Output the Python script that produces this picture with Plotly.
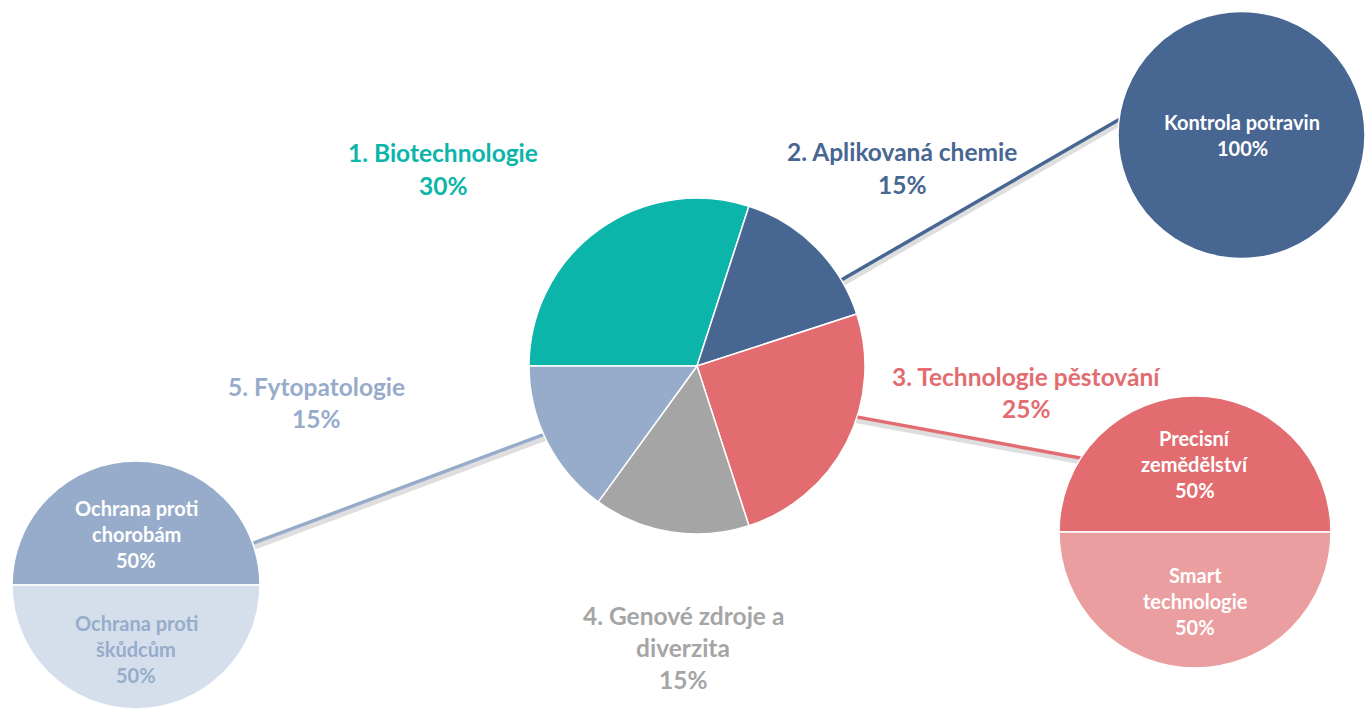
import math
import plotly.graph_objects as go

W, H = 1365, 710

# main pie
main_labels = ["1. Biotechnologie", "2. Aplikovaná chemie", "3. Technologie pěstování",
               "4. Genové zdroje a\ndiverzita", "5. Fytopatologie"]
main_values = [30, 15, 25, 15, 15]
main_colors = ["#0bb5aa", "#476692", "#e26c70", "#a5a5a5", "#97acca"]

# breakdown pies
aplik_labels = ["Kontrola potravin"]
aplik_values = [100]
aplik_colors = ["#476692"]

tech_labels = ["Precisní\nzemědělství", "Smart\ntechnologie"]
tech_values = [50, 50]
tech_colors = ["#e26c70", "#eb9e9f"]

fyto_labels = ["Ochrana proti\nchorobám", "Ochrana proti\nškůdcům"]
fyto_values = [50, 50]
fyto_colors = ["#97acca", "#d5dfec"]

FONT = "Lato"


def px(x):
    return x / W


def py(y):
    return 1 - y / H


def domain(cx, cy, r):
    x0, x1 = max(0, px(cx - r)), min(1, px(cx + r))
    y0, y1 = max(0, py(cy + r)), min(1, py(cy - r))
    return dict(x=[x0, x1], y=[y0, y1])


def edge(cx, cy, r, ang):
    a = math.radians(ang)
    return cx + r * math.cos(a), cy - r * math.sin(a)


def mid_angles(values):
    # slices start at 9 o'clock and run clockwise
    tot = sum(values)
    out, start = [], 180.0
    for v in values:
        span = 360.0 * v / tot
        out.append(start - span / 2)
        start -= span
    return out


fig = go.Figure()
annos = []
shapes = []


def add_text(x, y, text, color, size, spacing):
    lines = text.split("\n")
    n = len(lines)
    for i, ln in enumerate(lines):
        yy = y + (i - (n - 1) / 2) * spacing
        annos.append(dict(x=px(x), y=py(yy), xref="paper", yref="paper", text=ln,
                          showarrow=False, xanchor="center", yanchor="middle",
                          font=dict(family=FONT, size=size, color=color, weight="bold")))


def add_pie(labels, values, colors, cx, cy, r, name):
    fig.add_trace(go.Pie(
        labels=[l.replace("\n", " ") for l in labels], values=values, sort=False,
        direction="clockwise", rotation=270, textinfo="none", name=name,
        marker=dict(colors=colors, line=dict(color="white", width=1.5)),
        domain=domain(cx, cy, r), showlegend=False,
    ))


# geometry (pixels)
MC = (697, 366, 168)
AP = (1242, 135, 124)
TE = (1195, 532, 136)
FY = (136, 585, 124)

# connectors: (main angle, satellite, satellite angle, colour)
connectors = [(31, AP, 161, main_colors[1]), (-19.5, TE, 141, main_colors[2]),
              (205, FY, 19.4, main_colors[4])]
for a0, sat, a1, col in connectors:
    x0, y0 = edge(MC[0], MC[1], MC[2] * 0.8, a0)
    x1, y1 = edge(sat[0], sat[1], sat[2] * 0.8, a1)
    shapes.append(dict(type="line", xref="paper", yref="paper", layer="below",
                       x0=px(x0 + 1), y0=py(y0 + 4), x1=px(x1 + 1), y1=py(y1 + 4),
                       line=dict(color="rgba(0,0,0,0.13)", width=5)))
    shapes.append(dict(type="line", xref="paper", yref="paper", layer="below",
                       x0=px(x0), y0=py(y0), x1=px(x1), y1=py(y1),
                       line=dict(color=col, width=3.5)))

add_pie(main_labels, main_values, main_colors, *MC, "main")
add_pie(aplik_labels, aplik_values, aplik_colors, *AP, "aplik")
add_pie(tech_labels, tech_values, tech_colors, *TE, "tech")
add_pie(fyto_labels, fyto_values, fyto_colors, *FY, "fyto")

# main outside labels
label_pos = [(443, 169), (902, 168), (1026, 392), (683, 647), (316, 402)]
for lab, v, col, (x, y) in zip(main_labels, main_values, main_colors, label_pos):
    add_text(x, y, f"{lab}\n{v}%", col, 24.5, 32)

# satellite inside labels
sats = [
    (aplik_labels, aplik_values, AP, [0.0], ["white"]),
    (tech_labels, tech_values, TE, [0.5, 0.51], ["white", "white"]),
    (fyto_labels, fyto_values, FY, [0.41, 0.52], ["white", "#97acca"]),
]
for labs, vals, (cx, cy, r), fr, cols in sats:
    tot = sum(vals)
    for lab, v, ang, f, col in zip(labs, vals, mid_angles(vals), fr, cols):
        x, y = edge(cx, cy, r * f, ang)
        add_text(x, y, f"{lab}\n{round(100 * v / tot)}%", col, 20, 26)

fig.update_layout(
    margin=dict(l=0, r=0, t=0, b=0),
    paper_bgcolor="white", plot_bgcolor="white",
    annotations=annos, shapes=shapes,
)

# drop the page's default body margin so the figure fills the whole window
fix_margin = ("document.body.style.margin='0';"
              "Plotly.Plots.resize(document.getElementById('{plot_id}'));")
fig.write_html("out.html", post_script=fix_margin, config={"displayModeBar": False})
